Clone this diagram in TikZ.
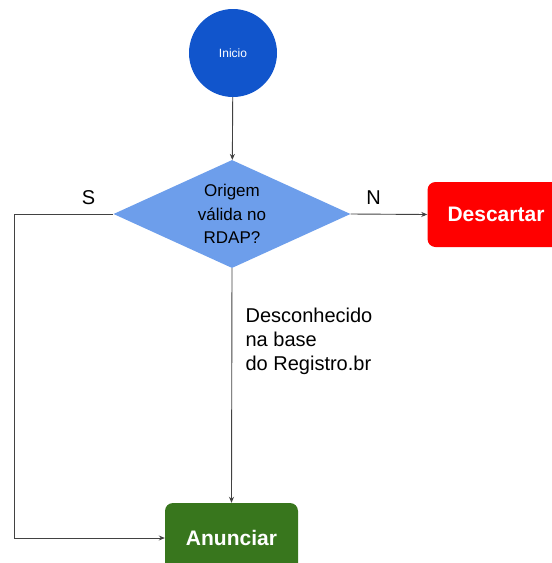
\documentclass[tikz,border=0pt]{standalone}
\usepackage{fontspec}
\setmainfont{Liberation Sans}
\usetikzlibrary{shapes.geometric,arrows.meta}
\definecolor{azulinicio}{HTML}{1155CC}
\definecolor{azuldecisao}{HTML}{6D9EEB}
\definecolor{vermelho}{HTML}{FF0000}
\definecolor{verde}{HTML}{38761D}
\definecolor{linha}{HTML}{424242}

\begin{document}
\begin{tikzpicture}[
	x=1pt,
	y=-1pt,
	inicio/.style={circle,fill=azulinicio,draw=none,minimum size=88pt,inner sep=0pt,text=white,font=\fontsize{12}{14}\selectfont},
	decisao/.style={diamond,fill=azuldecisao,draw=none,minimum width=237pt,minimum height=108pt,inner sep=0pt},
	textodecisao/.style={align=center,font=\fontsize{17}{23.5}\selectfont},
	caixa/.style={rectangle,rounded corners=8pt,draw=none,text=white,inner sep=0pt,font=\bfseries\fontsize{21}{25}\selectfont},
	rotulo/.style={font=\fontsize{20}{24}\selectfont},
	seta/.style={draw=linha,line width=0.9pt,-{Stealth[length=6pt,width=5pt]}}
]
\useasboundingbox (0,0) rectangle (552,563);
%\draw[step=50,black!10] (0,0) grid (552,563);
\node[inicio] (ini) at (233,53) {Inicio};
\node[decisao,label={[textodecisao]center:Origem\\válida no\\RDAP?}] (dec) at (232,214) {};
\node[caixa,fill=vermelho,minimum width=137pt,minimum height=65pt] (desc) at (496,214.5) {Descartar};
\node[caixa,fill=verde,minimum width=133pt,minimum height=70pt] (anun) at (231.5,538) {Anunciar};
\coordinate (canto) at (14,214);

\draw[seta] (ini) -- (dec);
\draw[seta] (dec.east) -- node[above=6pt,pos=0.3,rotulo]{N} (desc.west);
\draw[seta] (dec.west) -- node[above=6pt,pos=0.25,rotulo]{S} (canto) |- (anun.west);
\draw[seta] (dec.south) -- node[right=10pt,pos=0.31,align=left,rotulo]{Desconhecido\\na base\\do Registro.br} (anun.north);
\end{tikzpicture}
\end{document}
